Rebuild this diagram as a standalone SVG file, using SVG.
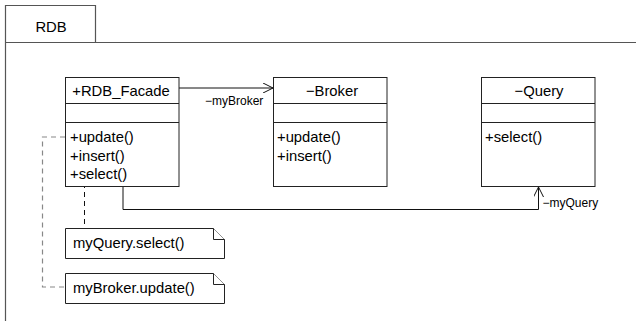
<svg xmlns="http://www.w3.org/2000/svg" width="636" height="321" viewBox="0 0 636 321">
  <defs>
    <style>
      text { font-family: "Liberation Sans", Arial, sans-serif; fill: #000; }
      .t { font-size: 14.8px; }
      .c { text-anchor: middle; }
      .lbl { font-size: 12px; }
      .box { fill: #fff; stroke: #222; stroke-width: 1; }
      .pkg { fill: none; stroke: #555; stroke-width: 1.2; }
      .sep { stroke: #222; stroke-width: 1; }
      .assoc { fill: none; stroke: #111; stroke-width: 1; }
      .dash { fill: none; stroke: #111; stroke-width: 1; stroke-dasharray: 5 4; }
      .dashg { fill: none; stroke: #888; stroke-width: 1.2; stroke-dasharray: 5 4; }
    </style>
    <marker id="open" viewBox="0 0 10 10" refX="10" refY="5" markerWidth="10" markerHeight="10" markerUnits="userSpaceOnUse" orient="auto">
      <path d="M0,0 L10,5 L0,10" fill="none" stroke="#111" stroke-width="1"/>
    </marker>
  </defs>

  <!-- package RDB -->
  <g id="pkg-RDB">
    <path class="pkg" d="M5.5,321 V42.5 H636 M5.5,42.5 V5.5 H95.5 V42.5"/>
    <text class="t" x="51" y="32" text-anchor="middle">RDB</text>
  </g>

  <!-- connectors -->
  <g id="connectors">
    <path class="assoc" d="M179,88 H273" marker-end="url(#open)"/>
    <text class="lbl" x="205" y="105">−myBroker</text>
    <path class="assoc" d="M123,186.5 V209.5 H538.5 V187" marker-end="url(#open)"/>
    <text class="lbl" x="542.5" y="207">−myQuery</text>
    <path class="dash" d="M84.5,183 V228.5"/>
    <path class="dashg" d="M65,137 H42.5 V287 H65"/>
  </g>

  <!-- class RDB_Facade -->
  <g id="RDB_Facade">
    <rect class="box" x="65.5" y="77.5" width="113.5" height="109"/>
    <line class="sep" x1="65.5" y1="103.5" x2="179" y2="103.5"/>
    <line class="sep" x1="65.5" y1="122.5" x2="179" y2="122.5"/>
    <text class="t c" x="121" y="96">+RDB_Facade</text>
    <text class="t" x="70" y="141.5">+update()</text>
    <text class="t" x="70" y="160.5">+insert()</text>
    <text class="t" x="70" y="179">+select()</text>
  </g>

  <!-- class Broker -->
  <g id="Broker">
    <rect class="box" x="273.5" y="77.5" width="113.5" height="109"/>
    <line class="sep" x1="273.5" y1="103.5" x2="387" y2="103.5"/>
    <line class="sep" x1="273.5" y1="122.5" x2="387" y2="122.5"/>
    <text class="t c" x="332" y="96">−Broker</text>
    <text class="t" x="277" y="141.5">+update()</text>
    <text class="t" x="277" y="160.5">+insert()</text>
  </g>

  <!-- class Query -->
  <g id="Query">
    <rect class="box" x="481.5" y="77.5" width="113.5" height="109"/>
    <line class="sep" x1="481.5" y1="103.5" x2="595" y2="103.5"/>
    <line class="sep" x1="481.5" y1="122.5" x2="595" y2="122.5"/>
    <text class="t c" x="539" y="96">−Query</text>
    <text class="t" x="485" y="141.5">+select()</text>
  </g>

  <!-- note: myQuery.select() -->
  <g id="note-select">
    <path class="box" d="M65.5,228.5 H213.5 L224.5,239.5 V258.5 H65.5 Z"/>
    <path class="box" d="M213.5,228.5 V239.5 H224.5" fill="none"/>
    <text class="t" x="73" y="248">myQuery.select()</text>
  </g>

  <!-- note: myBroker.update() -->
  <g id="note-update">
    <path class="box" d="M65.5,273.5 H213.5 L224.5,284.5 V303.5 H65.5 Z"/>
    <path class="box" d="M213.5,273.5 V284.5 H224.5" fill="none"/>
    <text class="t" x="73" y="293">myBroker.update()</text>
  </g>
</svg>
